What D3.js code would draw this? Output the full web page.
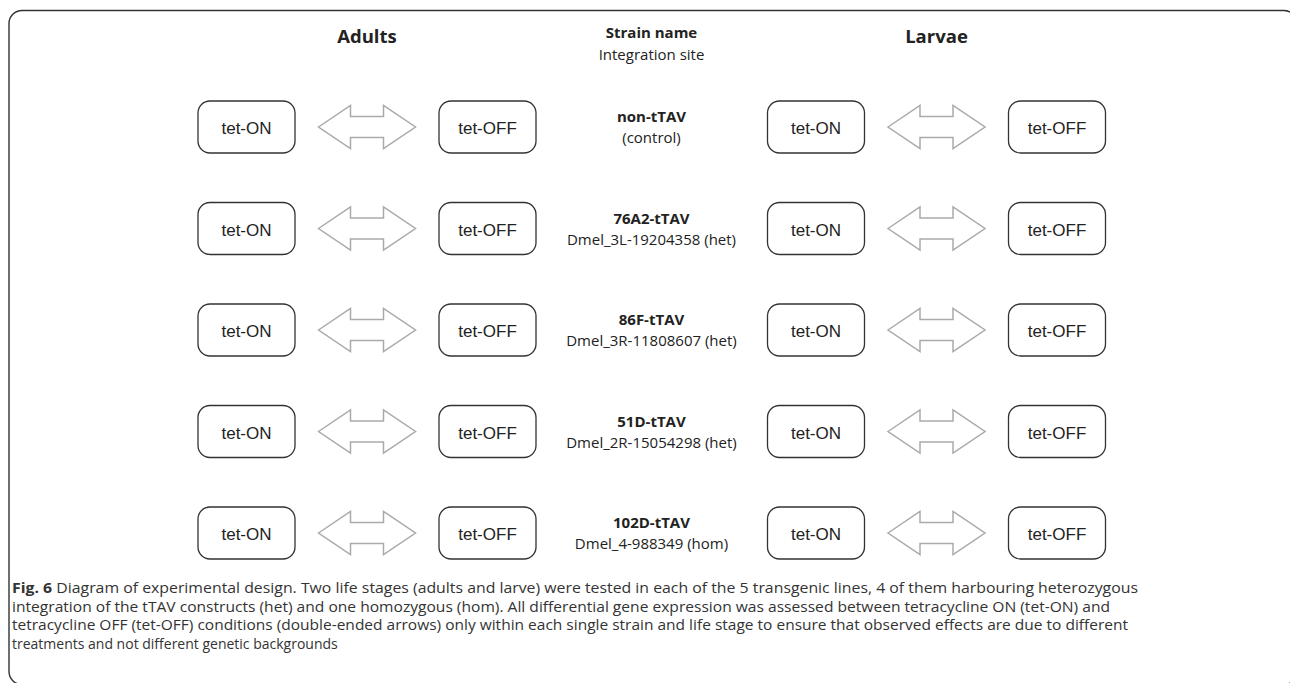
<!DOCTYPE html>
<html lang="en">
<head>
    <meta charset="UTF-8">
    <title>Diagram of experimental design</title>
    <script src="https://d3js.org/d3.v7.min.js"></script>
    <style>
        body {
            margin: 0;
            padding: 0;
            background: #fff;
        }
        svg { display: block; }
        .box-label { font-family: 'Liberation Sans', Arial, sans-serif; font-size: 17px; fill: #222; }
        .head { font-family: 'Open Sans', 'Noto Sans', sans-serif; fill: #222; }
        .caption { font-family: 'Open Sans', 'Noto Sans', sans-serif; font-size: 14px; fill: #333; }
    </style>
</head>
<body>
<div id="chart"></div>
<script>
    // strains (rows) and their integration sites
    var strains = ["non-tTAV", "76A2-tTAV", "86F-tTAV", "51D-tTAV", "102D-tTAV"];
    var sites = ["(control)", "Dmel_3L-19204358 (het)", "Dmel_3R-11808607 (het)", "Dmel_2R-15054298 (het)", "Dmel_4-988349 (hom)"];
    // life stages (column groups) and treatments inside each
    var stages = ["Adults", "Larvae"];
    var treatments = ["tet-ON", "tet-OFF"];

    var captionLines = [
        ["Fig. 6", " Diagram of experimental design. Two life stages (adults and larve) were tested in each of the 5 transgenic lines, 4 of them harbouring heterozygous"],
        ["", "integration of the tTAV constructs (het) and one homozygous (hom). All differential gene expression was assessed between tetracycline ON (tet-ON) and"],
        ["", "tetracycline OFF (tet-OFF) conditions (double-ended arrows) only within each single strain and life stage to ensure that observed effects are due to different"],
        ["", "treatments and not different genetic backgrounds"]
    ];
    var captionWidths = [1126, 1098, 1116, null];

    var width = 1290, height = 683;
    var boxW = 97, boxH = 52;

    var svg = d3.select("#chart").append("svg")
        .attr("width", width)
        .attr("height", height)
        .attr("viewBox", [0, 0, width, height]);

    // outer frame (runs off the right / bottom edges)
    svg.append("rect")
        .attr("x", 9).attr("y", 10.5)
        .attr("width", 1288).attr("height", 674)
        .attr("rx", 13)
        .attr("fill", "none")
        .attr("stroke", "#333")
        .attr("stroke-width", 1.4);

    var yScale = d3.scalePoint()
        .domain(strains)
        .range([127, 533]);

    var stageScale = d3.scalePoint()
        .domain(stages)
        .range([367, 936.5]);

    var treatScale = d3.scalePoint()
        .domain(treatments)
        .range([-120.5, 120.5]);

    // column headers
    svg.selectAll(".stage-head")
        .data(stages)
        .enter()
        .append("text")
        .attr("class", "head")
        .attr("x", d => stageScale(d))
        .attr("y", 43)
        .attr("text-anchor", "middle")
        .style("font-size", "18.5px")
        .style("font-weight", "bold")
        .text(d => d);

    var midX = 651.5;
    svg.append("text")
        .attr("class", "head")
        .attr("x", midX).attr("y", 38)
        .attr("text-anchor", "middle")
        .style("font-size", "15px")
        .style("font-weight", "bold")
        .text("Strain name");
    svg.append("text")
        .attr("class", "head")
        .attr("x", midX).attr("y", 60)
        .attr("text-anchor", "middle")
        .style("font-size", "15px")
        .text("Integration site");

    // one row per strain
    var rows = svg.selectAll(".row")
        .data(strains)
        .enter()
        .append("g")
        .attr("class", "row")
        .attr("transform", d => "translate(0," + yScale(d) + ")");

    rows.append("text")
        .attr("class", "head")
        .attr("x", midX).attr("y", -5)
        .attr("text-anchor", "middle")
        .style("font-size", "15px")
        .style("font-weight", "bold")
        .text(d => d);

    rows.append("text")
        .attr("class", "head")
        .attr("x", midX).attr("y", 16)
        .attr("text-anchor", "middle")
        .style("font-size", "15px")
        .text((d, i) => sites[i]);

    var groups = rows.selectAll(".stage")
        .data(stages)
        .enter()
        .append("g")
        .attr("class", "stage")
        .attr("transform", d => "translate(" + stageScale(d) + ",0)");

    // double-ended arrow between the two treatments
    var aw = 48.5, ah = 32, hh = 21.5, sh = 10.5;
    var arrowPts = [[-aw, 0], [-aw + ah, -hh], [-aw + ah, -sh], [aw - ah, -sh], [aw - ah, -hh],
                    [aw, 0], [aw - ah, hh], [aw - ah, sh], [-aw + ah, sh], [-aw + ah, hh]];
    groups.append("path")
        .attr("d", d3.line()(arrowPts) + "Z")
        .attr("fill", "none")
        .attr("stroke", "#aaa")
        .attr("stroke-width", 1.5)
        .attr("stroke-linejoin", "miter");

    var boxes = groups.selectAll(".cond")
        .data(treatments)
        .enter()
        .append("g")
        .attr("class", "cond")
        .attr("transform", d => "translate(" + treatScale(d) + ",0)");

    boxes.append("rect")
        .attr("x", -boxW / 2).attr("y", -boxH / 2)
        .attr("width", boxW).attr("height", boxH)
        .attr("rx", 12)
        .attr("fill", "#fff")
        .attr("stroke", "#333")
        .attr("stroke-width", 1.3);

    boxes.append("text")
        .attr("class", "box-label")
        .attr("x", 0).attr("y", 7)
        .attr("text-anchor", "middle")
        .text(d => d);

    // caption
    var cap = svg.selectAll(".caption")
        .data(captionLines)
        .enter()
        .append("text")
        .attr("class", "caption")
        .attr("x", 12)
        .attr("y", (d, i) => 593 + i * 18.7)
        .each(function(d, i) {
            if (captionWidths[i]) {
                d3.select(this).attr("textLength", captionWidths[i]).attr("lengthAdjust", "spacingAndGlyphs");
            }
        });
    cap.append("tspan").style("font-weight", "bold").text(d => d[0]);
    cap.append("tspan").text(d => d[1]);
</script>
</body>
</html>
